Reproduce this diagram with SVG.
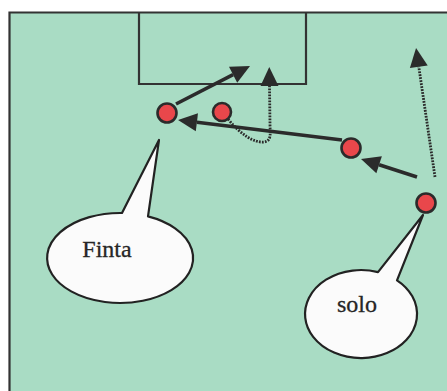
<svg xmlns="http://www.w3.org/2000/svg" width="447" height="391" viewBox="0 0 447 391">
  <style>
    .line { fill: none; stroke: #2b2b2b; stroke-width: 3.6; }
    .dots { fill: none; stroke: #2b2b2b; stroke-width: 2.8; stroke-dasharray: 1.8 1.2; }
    .player { fill: #e9474b; stroke: #2b2b2b; stroke-width: 2.6; }
    .bubble { fill: #fbfbfb; stroke: #222; stroke-width: 2.2; stroke-linejoin: round; }
    .label { font-family: "Liberation Serif", "Times New Roman", serif; font-size: 24px; fill: #262626; text-anchor: middle; stroke: #262626; stroke-width: 0.3; }
    .field-edge { fill: none; stroke: #333; stroke-width: 2.2; }
  </style>
  <defs>
    <marker id="head" markerUnits="userSpaceOnUse" markerWidth="22" markerHeight="20" refX="0" refY="9" orient="auto" overflow="visible">
      <path d="M0,0 L19,9 L0,18 Z" fill="#2b2b2b"/>
    </marker>
  </defs>

  <!-- page margin and pitch -->
  <rect x="0" y="0" width="447" height="391" fill="#ffffff"/>
  <rect x="9" y="12" width="438" height="379" fill="#a9dcc4"/>
  <path class="field-edge" d="M9.5,391 L9.5,12.5 L447,12.5"/>

  <!-- penalty area -->
  <g id="goal-area">
    <path class="field-edge" d="M139,12.5 L139,84 L306,84 L306,12.5"/>
  </g>

  <!-- movements: solid = pass, dotted = run -->
  <g id="connectors">
    <line class="line" x1="176" y1="104" x2="233.1" y2="74.7" marker-end="url(#head)"/>
    <path class="dots" d="M228,119 C240,134 254,143 264,142 C272,141 270,133 270,124 L269.5,86" marker-end="url(#head)"/>
    <line class="line" x1="342" y1="140" x2="196.9" y2="122.3" marker-end="url(#head)"/>
    <line class="line" x1="417" y1="177" x2="379.1" y2="164.8" marker-end="url(#head)"/>
    <path class="dots" d="M435,177 L418.8,66.8" marker-end="url(#head)"/>
  </g>

  <!-- players -->
  <g id="player-a"><circle class="player" cx="167" cy="113" r="9.5"/></g>
  <g id="player-b"><circle class="player" cx="222" cy="112" r="9"/></g>
  <g id="player-c"><circle class="player" cx="351" cy="148" r="9.5"/></g>
  <g id="player-d"><circle class="player" cx="426" cy="203" r="9.5"/></g>

  <!-- speech bubbles -->
  <g id="bubble-finta">
    <path class="bubble" d="M122,213 L159,140 L148,216.4 A73,45 0 1,1 122,213 Z"/>
    <text class="label" x="107" y="257">Finta</text>
  </g>
  <g id="bubble-solo">
    <path class="bubble" d="M378,272.1 L423,215 L397,280.3 A56,44 0 1,1 378,272.1 Z"/>
    <text class="label" x="357" y="312">solo</text>
  </g>
</svg>
